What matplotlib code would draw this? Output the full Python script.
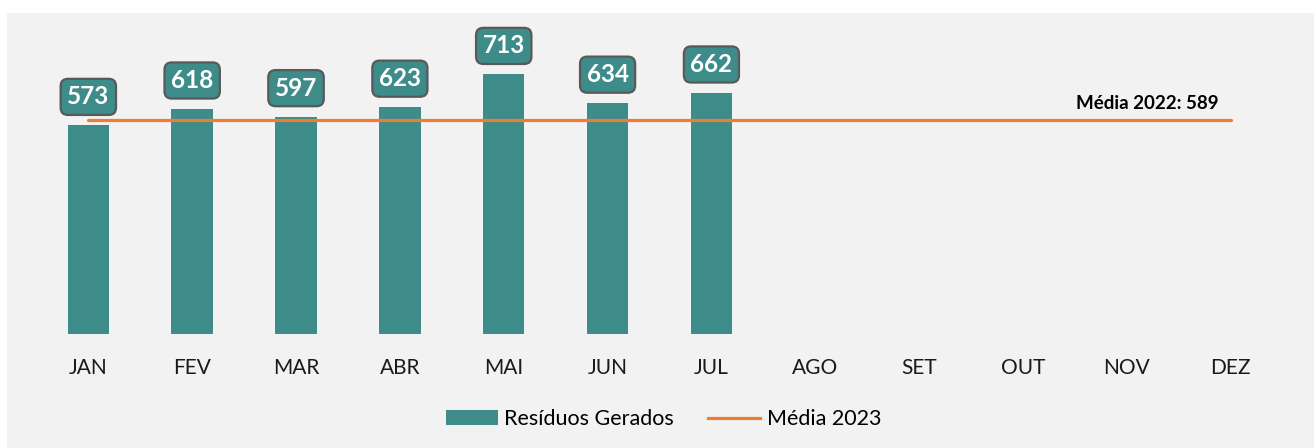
import matplotlib
matplotlib.use("Agg")
import matplotlib.pyplot as plt
from matplotlib.patches import Rectangle, Patch
from matplotlib.lines import Line2D

# Monthly waste data
months = ["JAN", "FEV", "MAR", "ABR", "MAI", "JUN", "JUL", "AGO", "SET", "OUT", "NOV", "DEZ"]
residuos = [573, 618, 597, 623, 713, 634, 662]
media_2022 = 589

TEAL = "#3d8c89"
ORANGE = "#ed7d31"
PANEL = "#f2f2f2"
EDGE = "#595959"
FONT = "Lato"

W, H = 1314, 448
fig = plt.figure(figsize=(W / 100, H / 100), dpi=100, facecolor="white")

# light grey chart area
fig.patches.append(Rectangle((7 / W, 0), 1 - 7 / W, 1 - 13 / H, transform=fig.transFigure,
                             facecolor=PANEL, edgecolor="none", zorder=-5))

ax = fig.add_axes([36.4 / W, (H - 334) / H, 1246.2 / W, 291.3 / H])
ax.set_facecolor("none")
ax.set_zorder(2)

x_all = list(range(len(months)))
x_data = x_all[:len(residuos)]
ax.bar(x_data, residuos, width=0.40, color=TEAL, zorder=2)

# reference average line across the whole year
ax.plot([x_all[0], x_all[-1]], [media_2022, media_2022], color=ORANGE, lw=2.3,
        solid_capstyle="round", zorder=3)
ax.annotate(f"Média 2022: {media_2022}", xy=(x_all[-1], media_2022), xytext=(-9, 5.5),
            textcoords="offset points", ha="right", va="bottom", fontsize=13.5,
            fontweight="bold", family=FONT, color="black")

# value labels in rounded boxes
for xi, v in zip(x_data, residuos):
    ax.annotate(str(v), xy=(xi, v), xytext=(0, 20.5), textcoords="offset points",
                ha="center", va="center", fontsize=17.5, fontweight="bold",
                family=FONT, color="white", zorder=4,
                bbox=dict(boxstyle="round,pad=0.27,rounding_size=0.3",
                          facecolor=TEAL, edgecolor=EDGE, linewidth=1.6))

ax.set_xlim(-0.5, 11.5)
ax.set_ylim(0, 800)
ax.set_xticks(x_all)
ax.set_xticklabels(months, fontsize=15, family=FONT, color="#1a1a1a")
ax.tick_params(axis="x", length=0, pad=17)
ax.set_yticks([])
for s in ax.spines.values():
    s.set_visible(False)

handles = [Patch(facecolor=TEAL, edgecolor="none", label="Resíduos Gerados"),
           Line2D([], [], color=ORANGE, lw=2.3, label="Média 2023")]
fig.legend(handles=handles, loc="center", bbox_to_anchor=(0.505, 0.065), ncol=2,
           frameon=False, prop={"family": FONT, "size": 15.5}, handlelength=2.4,
           handleheight=0.65, handletextpad=0.3, columnspacing=1.6)

fig.savefig("out.png", dpi=100, facecolor="white")
